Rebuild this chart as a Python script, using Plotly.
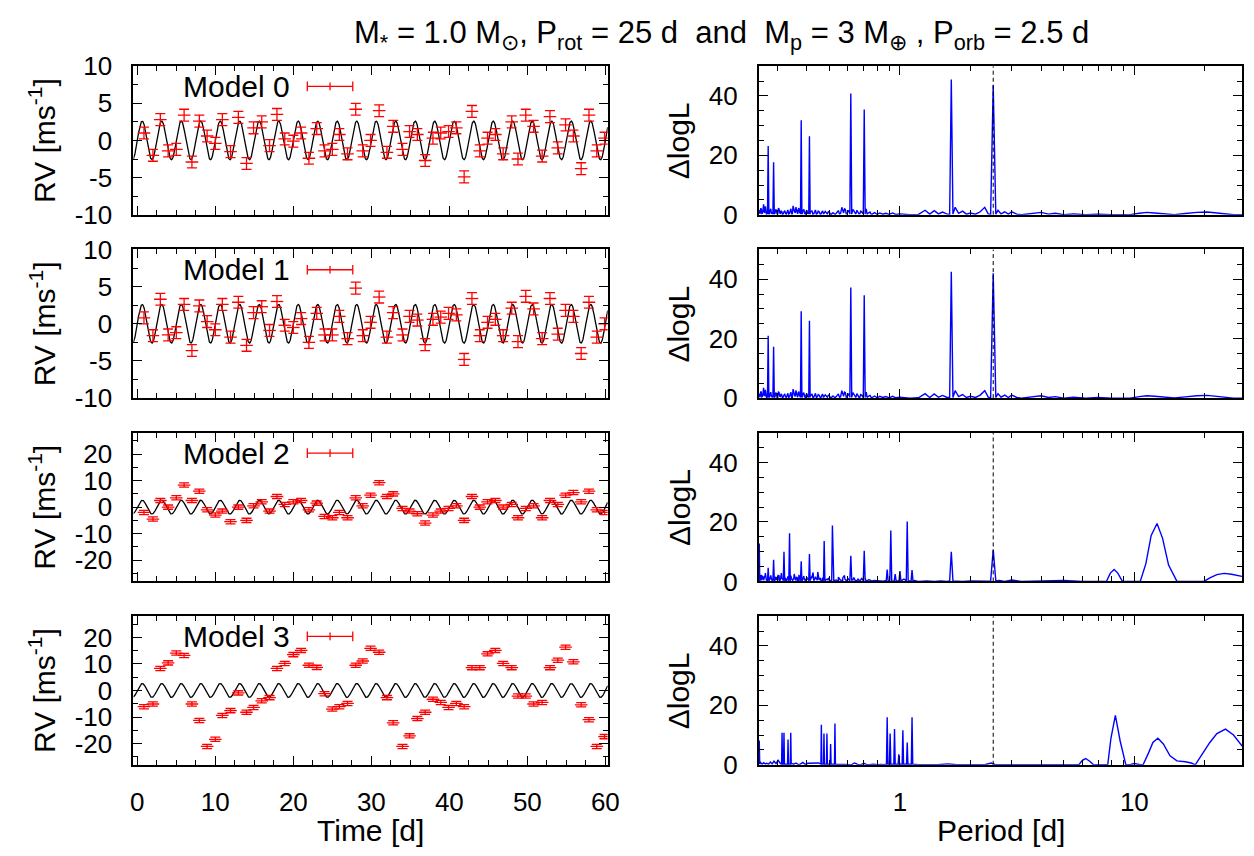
import numpy as np
import plotly.graph_objects as go

W, H = 1254, 856
FONT = "Liberation Sans"

# ---------------- RV time series ----------------
time_d = [0.85, 2.0, 2.95, 3.95, 5.0, 6.0, 7.0, 7.95, 8.95, 10.0,
          10.9, 11.95, 12.95, 14.0, 14.9, 15.95, 16.95, 17.9, 18.9, 20.0,
          21.0, 22.0, 23.0, 24.0, 25.0, 25.9, 26.95, 28.0, 28.9, 29.9,
          31.0, 32.0, 32.8, 34.0, 34.9, 35.9, 36.9, 37.9, 38.9, 39.9,
          40.9, 41.9, 42.9, 43.9, 44.9, 45.9, 46.9, 48.0, 48.8, 49.8,
          50.8, 51.9, 52.9, 53.9, 54.9, 55.9, 56.9, 57.9, 58.9, 59.9]

rv_model0 = [1.0, -2.0, 2.8, -1.4, -1.2, 3.4, -2.9, 2.6, 0.6, -0.4,
             2.8, -1.5, 3.1, -3.1, 1.7, 2.5, -0.7, 3.5, 0.2, -0.1,
             1.0, -2.4, 1.6, -1.4, -1.2, 0.8, -1.8, 4.2, -1.4, 0.0,
             4.0, -1.6, 1.9, -1.2, 1.2, 0.8, -2.7, 0.3, 1.0, 1.2,
             1.7, -4.9, 3.9, -1.4, 0.3, 0.8, -1.8, 2.5, -2.5, 3.4,
             1.9, -2.1, 3.2, -1.0, 2.1, 0.6, -3.8, 3.4, -1.4, 0.3]

rv_model1 = [0.8, -1.6, 3.3, -1.5, -1.2, 2.6, -3.6, 2.4, 0.3, -0.8,
             2.6, -1.8, 2.9, -2.9, 1.5, 2.3, -0.9, 3.0, -0.2, -0.5,
             0.7, -2.5, 1.4, -1.5, -1.5, 1.0, -2.0, 4.8, -1.6, 0.2,
             3.6, -1.8, 1.5, -1.5, 1.0, 0.5, -2.8, 0.6, 0.9, 1.4,
             1.2, -4.8, 3.4, -1.6, 0.2, 0.6, -1.6, 2.1, -2.4, 3.7,
             2.0, -2.0, 3.4, -1.4, 1.8, 1.0, -4.0, 2.9, -1.8, 0.0]

rv_model2 = [-2.0, -4.5, 2.5, 0.0, 3.5, 8.3, 2.5, 6.0, -1.0, -3.0,
             -1.5, -5.5, 0.0, -5.0, 0.5, 2.0, -1.5, 4.0, 1.0, 2.0,
             2.5, -1.0, 1.5, -3.5, -4.0, -2.0, -4.0, 3.5, 0.5, 4.5,
             9.2, 4.0, 5.0, -0.5, -1.5, -2.5, -6.0, -3.0, -1.5, -0.5,
             0.5, -5.0, 4.0, 0.0, 2.0, 2.5, 0.0, 1.0, -4.0, -0.5,
             0.5, -4.0, 2.5, 1.0, 4.5, 5.5, 2.0, 6.0, -1.0, -2.0]

rv_model3 = [-6.1, -5.1, 8.3, 10.4, 14.1, 13.2, -5.1, -11.3, -21.1, -18.4,
             -9.4, -7.6, -0.9, -8.2, -6.4, -3.9, -2.7, 8.3, 10.2, 13.5,
             15.1, 9.5, 8.7, -1.2, -7.0, -6.1, -4.9, 9.5, 11.1, 15.9,
             14.4, -2.7, -12.2, -21.1, -17.1, -10.6, -8.2, -3.3, -4.5, -6.4,
             -4.9, -6.1, 8.6, 8.6, 13.8, 15.1, 10.2, 8.6, -2.1, -2.1,
             -5.1, -4.5, 8.6, 11.4, 16.3, 10.8, -5.4, -11.0, -21.1, -17.4]

rv_err = 0.8

# injected planet signal (model curve parameters)
K_planet = 2.6
P_orb = 2.5
t_peak = 0.625

# ---------------- Periodograms ----------------
floor_m01_P = [0.250, 0.253, 0.256, 0.259, 0.262, 0.265, 0.268, 0.271, 0.279, 0.283,
               0.295, 0.299, 0.303, 0.307, 0.311, 0.315, 0.320, 0.325, 0.330, 0.335,
               0.340, 0.345, 0.350, 0.355, 0.360, 0.364, 0.368, 0.373, 0.386, 0.392,
               0.398, 0.404, 0.418, 0.425, 0.432, 0.440, 0.448, 0.456, 0.464, 0.472,
               0.480, 0.490, 0.500, 0.510, 0.520, 0.530, 0.540, 0.552, 0.565, 0.575,
               0.585, 0.595, 0.605, 0.630, 0.642, 0.655, 0.668, 0.680, 0.692, 0.718,
               0.730, 0.745, 0.760, 0.780, 0.800, 0.820, 0.845, 0.870, 0.900, 0.930,
               0.960, 1.000, 1.05, 1.10, 1.20, 1.28, 1.34, 1.40, 1.46, 1.52,
               1.58, 1.72, 1.78, 1.85, 1.92, 2.00, 2.10, 2.20, 2.30, 2.38,
               2.62, 2.70, 2.80, 2.90, 3.00, 3.15, 3.30, 3.80, 4.00, 4.30,
               4.60, 5.00, 5.50, 6.20, 7.00, 8.00, 9.50, 28.8]
floor_m01_h = [1.5, 0.3, 2.0, 0.5, 3.5, 0.8, 1.8, 0.4, 1.2, 0.5,
               1.8, 0.3, 2.2, 0.6, 1.4, 0.2, 1.0, 0.4, 0.9, 0.2,
               1.2, 0.3, 3.0, 1.0, 2.6, 0.5, 1.8, 0.6, 1.5, 0.4,
               1.2, 0.3, 1.0, 0.2, 0.8, 0.2, 1.2, 0.3, 0.9, 0.2,
               1.1, 0.3, 0.8, 0.1, 0.6, 0.2, 0.9, 0.3, 2.5, 0.6,
               1.8, 0.4, 1.5, 1.8, 0.4, 1.5, 0.3, 1.2, 0.4, 2.0,
               0.5, 0.9, 0.2, 0.7, 0.1, 0.6, 0.2, 0.5, 0.1, 0.6,
               0.1, 0.3, 0.1, 0.0, 0.1, 1.5, 0.2, 1.4, 0.3, 0.9,
               0.3, 2.5, 0.5, 1.2, 0.2, 0.6, 0.2, 1.0, 2.5, 0.3,
               1.5, 0.3, 1.0, 0.2, 1.0, 0.2, 0.0, 0.5, 0.8, 0.2,
               0.5, 0.0, 0.3, 0.0, 0.2, 0.0, 0.0, 0.0]

# extra short-period noise texture (dense band at P < 0.76 d)
floor_dense_P = [0.2515, 0.2545, 0.2575, 0.2605, 0.2635, 0.2665, 0.2695, 0.2725,
                 0.2775, 0.281, 0.285, 0.293, 0.297, 0.301, 0.305, 0.309, 0.313, 0.3175,
                 0.3225, 0.3275, 0.3325, 0.3375, 0.3425, 0.3475, 0.3525, 0.3575,
                 0.362, 0.366, 0.3705, 0.375, 0.383, 0.389, 0.395, 0.401, 0.407,
                 0.4145, 0.4215, 0.4285, 0.436, 0.444, 0.452, 0.460, 0.468, 0.476, 0.485,
                 0.495, 0.505, 0.515, 0.525, 0.535, 0.546, 0.558, 0.570, 0.580, 0.590,
                 0.600, 0.611, 0.624, 0.636, 0.648, 0.661, 0.674, 0.686, 0.698, 0.711,
                 0.724, 0.737, 0.752]
floor_dense_h = [0.6, 2.2, 0.4, 1.6, 0.9, 2.8, 0.3, 1.0,
                 0.4, 2.0, 0.6, 0.5, 1.5, 0.3, 1.9, 0.5, 1.1, 0.3,
                 1.4, 0.2, 1.6, 0.4, 2.0, 0.3, 1.2, 0.6,
                 1.5, 0.3, 2.2, 0.8, 0.4, 1.8, 0.2, 1.5, 0.6,
                 0.9, 1.4, 0.3, 1.6, 0.4, 1.0, 0.2, 1.3, 0.5, 0.7,
                 1.0, 0.2, 0.6, 0.3, 0.5, 1.4, 0.4, 1.2, 2.0, 0.3,
                 1.0, 0.5, 0.6, 1.3, 0.2, 0.9, 0.3, 1.0, 0.5, 0.8,
                 0.2, 0.6, 0.3]

pk_m0_P = [0.274, 0.289, 0.379, 0.411, 0.617, 0.704, 1.656, 2.5]
pk_m0_h = [23.1, 17.7, 31.8, 26.4, 40.8, 35.4, 45.5, 43.6]
pk_m1_h = [21.0, 17.3, 29.2, 26.0, 37.2, 34.6, 42.5, 42.0]
pk_m01_w = [0.003, 0.003, 0.003, 0.003, 0.004, 0.004, 0.007, 0.011]

hump_m0_P = [[9.6, 10.5, 11.3, 12.2, 13.2, 14.2],
             [14.8, 16.5, 18.5, 20.5, 22.5, 24.5, 26.5]]
hump_m0_h = [[0.0, 0.5, 0.8, 0.6, 0.3, 0.05],
             [0.05, 0.4, 0.8, 0.9, 0.6, 0.2, 0.0]]

floor_m2_P = [0.250, 0.254, 0.258, 0.262, 0.266, 0.270, 0.280, 0.284, 0.293, 0.297,
              0.302, 0.306, 0.312, 0.316, 0.324, 0.329, 0.333, 0.344, 0.349, 0.354,
              0.360, 0.365, 0.370, 0.374, 0.384, 0.390, 0.396, 0.402, 0.408, 0.415,
              0.420, 0.426, 0.432, 0.438, 0.446, 0.452, 0.458, 0.465, 0.472, 0.480,
              0.490, 0.500, 0.510, 0.522, 0.534, 0.546, 0.558, 0.570, 0.582, 0.594,
              0.606, 0.630, 0.645, 0.660, 0.675, 0.690, 0.718, 0.735, 0.755, 0.775,
              0.800, 0.825, 0.850, 0.870, 0.930, 0.980, 1.040, 1.100, 1.150, 1.200,
              1.300, 1.400, 1.500, 1.58, 1.74, 1.85, 2.00, 2.20, 2.35, 2.65,
              2.80, 3.00, 3.30, 3.80, 4.20, 5.00, 6.00, 7.00, 28.8]
floor_m2_h = [2.5, 0.6, 1.8, 0.4, 2.2, 0.5, 1.5, 0.3, 1.6, 0.5,
              2.0, 0.4, 2.8, 0.8, 1.2, 0.3, 1.8, 1.0, 0.3, 2.5,
              0.5, 1.2, 0.3, 1.5, 0.4, 1.0, 0.2, 0.8, 3.5, 0.6,
              1.5, 3.0, 0.5, 1.2, 3.2, 0.4, 1.0, 0.2, 0.8, 0.4,
              0.6, 0.3, 0.5, 0.2, 0.4, 0.1, 0.5, 0.2, 0.8, 0.3,
              0.6, 0.5, 0.2, 0.4, 0.1, 0.6, 0.3, 0.5, 0.1, 0.3,
              0.2, 0.3, 0.1, 0.3, 0.1, 0.3, 0.8, 0.2, 0.3, 0.0,
              0.2, 0.0, 0.2, 0.0, 0.1, 0.0, 0.2, 0.0, 0.1, 0.3,
              0.0, 0.5, 0.0, 0.1, 0.0, 0.3, 0.0, 0.0, 0.0]

pk_m2_P = [0.251, 0.274, 0.289, 0.320, 0.338, 0.379, 0.411, 0.475, 0.515,
           0.617, 0.704, 0.882, 0.914, 0.954, 1.000, 1.074, 1.126, 1.656, 2.5]
pk_m2_h = [12.8, 4.6, 7.3, 10.0, 16.2, 6.8, 9.2, 13.6, 18.8,
           8.6, 10.3, 4.0, 17.1, 2.5, 3.5, 20.2, 3.8, 10.0, 10.6]
pk_m2_w = [0.002, 0.003, 0.003, 0.003, 0.003, 0.003, 0.003, 0.003, 0.003,
           0.004, 0.004, 0.004, 0.004, 0.004, 0.004, 0.004, 0.004, 0.007, 0.011]

hump_m2_P = [[7.6, 7.9, 8.2, 8.5, 8.9],
             [10.6, 11.2, 11.8, 12.5, 13.2, 14.0, 15.2],
             [19.8, 21.0, 22.5, 24.2, 26.0, 28.8]]
hump_m2_h = [[0.0, 2.8, 4.0, 2.8, 0.0],
             [0.0, 6.0, 15.5, 19.5, 14.5, 5.5, 0.0],
             [0.0, 1.2, 2.3, 2.7, 2.4, 1.7]]

floor_m3_P = [0.254, 0.258, 0.262, 0.266, 0.270, 0.275, 0.280, 0.285, 0.290, 0.296,
              0.302, 0.310, 0.346, 0.352, 0.360, 0.368, 0.376, 0.385, 0.395, 0.405,
              0.450, 0.535, 0.545, 0.560, 0.580, 0.600, 0.620, 0.640, 0.660, 0.680,
              0.700, 0.720, 0.740, 0.770, 0.800, 0.830, 0.855, 1.150, 1.20, 1.30,
              1.45, 1.60, 1.75, 2.00, 2.30, 2.45, 2.55, 2.70, 3.20, 4.00,
              5.00, 5.70, 7.40, 9.60, 10.0, 10.6, 28.9]
floor_m3_h = [0.8, 0.2, 0.7, 0.3, 0.5, 0.2, 0.9, 0.3, 1.2, 0.4,
              1.5, 0.3, 0.4, 0.2, 0.6, 0.1, 0.2, 0.8, 0.1, 0.5,
              0.6, 0.2, 0.1, 0.2, 0.0, 0.1, 0.0, 0.6, 0.1, 0.0,
              0.5, 0.1, 0.0, 0.2, 0.0, 0.1, 0.0, 0.1, 0.0, 0.0,
              0.0, 0.3, 0.0, 0.0, 0.0, 0.6, 0.0, 0.0, 0.0, 0.0,
              0.0, 0.0, 0.0, 0.0, 0.4, 0.0, 6.2]

pk_m3_P = [0.251, 0.314, 0.320, 0.333, 0.342, 0.462, 0.474, 0.488, 0.506, 0.528,
           0.882, 0.908, 0.948, 0.989, 1.029, 1.074, 1.126]
pk_m3_h = [8.2, 10.8, 10.8, 8.5, 10.8, 13.5, 10.5, 10.5, 7.0, 13.9,
           16.0, 10.5, 12.0, 3.5, 11.6, 7.5, 16.0]
pk_m3_w = [0.002, 0.002, 0.002, 0.002, 0.002, 0.002, 0.002, 0.002, 0.002, 0.002,
           0.003, 0.003, 0.003, 0.003, 0.003, 0.003, 0.003]

hump_m3_P = [[5.8, 6.0, 6.2, 6.45, 6.7],
             [7.7, 7.95, 8.3, 8.7, 9.2],
             [10.9, 11.5, 12.0, 12.6, 13.3, 14.2, 15.2, 16.5, 17.5, 18.2],
             [18.2, 19.5, 21.0, 22.5, 24.5, 26.5, 28.0]]
hump_m3_h = [[0.0, 1.5, 2.1, 1.2, 0.0],
             [0.0, 9.0, 16.6, 8.0, 0.0],
             [0.0, 4.0, 7.5, 8.9, 7.0, 3.0, 1.3, 1.0, 0.6, 0.0],
             [0.0, 3.5, 7.5, 10.5, 12.0, 10.0, 7.5]]

panel_names = ["Model 0", "Model 1", "Model 2", "Model 3"]


def build_curve(floor_P, floor_h, pk_P, pk_h, pk_w, hump_P, hump_h):
    pts, spans = [], []
    for p, h, w in zip(pk_P, pk_h, pk_w):
        lo, hi = p * 10 ** (-w), p * 10 ** w
        spans.append((lo, hi))
        pts += [(lo, 0.2), (p, h), (hi, 0.2)]
    for hp, hh in zip(hump_P, hump_h):
        spans.append((min(hp), max(hp)))
        pts += list(zip(hp, hh))
    for p, h in zip(floor_P, floor_h):
        if any(lo <= p <= hi for lo, hi in spans):
            continue
        pts.append((p, h))
    pts.sort()
    return [a for a, _ in pts], [b for _, b in pts]


pgrams = [
    build_curve(floor_m01_P + floor_dense_P, floor_m01_h + floor_dense_h,
                pk_m0_P, pk_m0_h, pk_m01_w, hump_m0_P, hump_m0_h),
    build_curve(floor_m01_P + floor_dense_P, floor_m01_h + floor_dense_h,
                pk_m0_P, pk_m1_h, pk_m01_w, hump_m0_P, hump_m0_h),
    build_curve(floor_m2_P + floor_dense_P, floor_m2_h + floor_dense_h,
                pk_m2_P, pk_m2_h, pk_m2_w, hump_m2_P, hump_m2_h),
    build_curve(floor_m3_P, floor_m3_h, pk_m3_P, pk_m3_h, pk_m3_w, hump_m3_P, hump_m3_h),
]
rv_sets = [rv_model0, rv_model1, rv_model2, rv_model3]

# ---------------- layout geometry (pixels) ----------------
L_X0, L_X1 = 132, 612
R_X0, R_X1 = 765, 1254
panel_top = [53, 243, 433, 623]
panel_h = 154

TICK_SIZE = 26
TITLE_SIZE = 30


def px(x):
    return x / W


def py(y):
    return 1 - y / H


fig = go.Figure()
t_model = np.linspace(-0.5, 60.3, 2000)
v_model = K_planet * np.sin(2 * np.pi * (t_model - t_peak) / P_orb + np.pi / 2)

axis_common = dict(showline=True, linecolor="black", linewidth=2, mirror="allticks",
                   ticks="inside", tickcolor="black", tickwidth=1.2, ticklen=9,
                   showgrid=False, zeroline=False,
                   tickfont=dict(family=FONT, size=TICK_SIZE, color="black"))

annotations = []
shapes = []
for i in range(4):
    top = panel_top[i]
    bot = top + panel_h
    ydom = [py(bot), py(top)]
    xa_l = "x" + (str(2 * i + 1) if i > 0 else "")
    ya_l = "y" + (str(2 * i + 1) if i > 0 else "")
    xa_r = "x" + str(2 * i + 2)
    ya_r = "y" + str(2 * i + 2)

    # left RV panel
    fig.add_trace(go.Scatter(x=t_model, y=v_model, mode="lines",
                             line=dict(color="black", width=1.3),
                             xaxis=xa_l, yaxis=ya_l, showlegend=False, hoverinfo="skip"))
    fig.add_trace(go.Scatter(x=time_d, y=rv_sets[i], mode="markers",
                             marker=dict(symbol="line-ew", size=9, color="red",
                                         line=dict(color="red", width=1.3)),
                             error_y=dict(type="constant", value=rv_err, color="red",
                                          thickness=1.3, width=5),
                             xaxis=xa_l, yaxis=ya_l, showlegend=False))
    # right periodogram panel
    pp, hh = pgrams[i]
    fig.add_trace(go.Scatter(x=pp, y=hh, mode="lines",
                             line=dict(color="#0000ff", width=1.4),
                             xaxis=xa_r, yaxis=ya_r, showlegend=False))
    fig.add_trace(go.Scatter(x=[P_orb, P_orb], y=[0, 50], mode="lines",
                             line=dict(color="black", width=1, dash="4px,3px"),
                             xaxis=xa_r, yaxis=ya_r, showlegend=False))

    last = (i == 3)
    lkey = xa_l.replace("x", "xaxis")
    rkey = xa_r.replace("x", "xaxis")
    lykey = ya_l.replace("y", "yaxis")
    rykey = ya_r.replace("y", "yaxis")

    fig.layout[lkey] = dict(axis_common, domain=[px(L_X0), px(L_X1)], anchor=ya_l,
                            range=[-0.5, 60.3], tickvals=[0, 10, 20, 30, 40, 50, 60],
                            ticktext=["0", "10", "20", "30", "40", "50", "60"],
                            showticklabels=last, ticklabelstandoff=13,
                            minor=dict(ticks="inside", dtick=2.5, tick0=0, ticklen=5,
                                       tickcolor="black", tickwidth=1))
    if i < 2:
        yv = [-10, -5, 0, 5, 10]
        yr = [-10, 10]
        ymin = 2.5
    else:
        yv = [-20, -10, 0, 10, 20]
        yr = [-28, 28]
        ymin = 5
    fig.layout[lykey] = dict(axis_common, domain=ydom, anchor=xa_l, range=yr,
                             tickvals=yv, ticktext=[str(v) for v in yv],
                             ticklabelstandoff=14,
                             minor=dict(ticks="inside", dtick=ymin, tick0=0, ticklen=5,
                                        tickcolor="black", tickwidth=1))
    minor_log = [0.3, 0.4, 0.5, 0.6, 0.7, 0.8, 0.9, 2, 3, 4, 5, 6, 7, 8, 9, 20]
    fig.layout[rkey] = dict(axis_common, type="log", domain=[px(R_X0), px(R_X1)],
                            anchor=ya_r, range=[np.log10(0.25), np.log10(28.8)],
                            tickvals=[1, 10], ticktext=["1", "10"],
                            showticklabels=last, ticklabelstandoff=13,
                            minor=dict(ticks="inside", tickvals=minor_log, ticklen=5,
                                       tickcolor="black", tickwidth=1))
    fig.layout[rykey] = dict(axis_common, domain=ydom, anchor=xa_r, range=[0, 50],
                             tickvals=[0, 20, 40], ticktext=["0", "20", "40"],
                             ticklabelstandoff=14,
                             minor=dict(ticks="inside", dtick=5, tick0=0, ticklen=5,
                                        tickcolor="black", tickwidth=1))

    # axis titles
    mid = top + panel_h / 2
    annotations.append(dict(text="RV [ms<sup>-1</sup>]", x=px(40), y=py(mid), xref="paper",
                            yref="paper", textangle=-90, showarrow=False,
                            font=dict(family=FONT, size=TITLE_SIZE, color="black"),
                            xanchor="center", yanchor="middle"))
    annotations.append(dict(text="\u0394logL", x=px(684), y=py(mid), xref="paper",
                            yref="paper", textangle=-90, showarrow=False,
                            font=dict(family=FONT, size=TITLE_SIZE, color="black"),
                            xanchor="center", yanchor="middle"))
    # key
    ky = top + 21
    annotations.append(dict(text=panel_names[i], x=px(292), y=py(ky), xref="paper",
                            yref="paper", showarrow=False, xanchor="right",
                            yanchor="middle",
                            font=dict(family=FONT, size=30, color="black")))
    kl = dict(type="line", xref="paper", yref="paper", line=dict(color="red", width=1.3))
    shapes.append(dict(kl, x0=px(308), x1=px(354), y0=py(ky), y1=py(ky)))
    shapes.append(dict(kl, x0=px(308), x1=px(308), y0=py(ky - 5), y1=py(ky + 5)))
    shapes.append(dict(kl, x0=px(354), x1=px(354), y0=py(ky - 5), y1=py(ky + 5)))
    shapes.append(dict(kl, x0=px(331), x1=px(331), y0=py(ky - 4), y1=py(ky + 4)))

annotations.append(dict(text="Time [d]", x=px(372), y=py(845), xref="paper", yref="paper",
                        showarrow=False, xanchor="center", yanchor="middle",
                        font=dict(family=FONT, size=TITLE_SIZE, color="black")))
annotations.append(dict(text="Period [d]", x=px(1010), y=py(845), xref="paper", yref="paper",
                        showarrow=False, xanchor="center", yanchor="middle",
                        font=dict(family=FONT, size=TITLE_SIZE, color="black")))
annotations.append(dict(
    text="M<sub>*</sub> = 1.0 M<sub>\u2299</sub>, P<sub>rot</sub> = 25 d  and  M<sub>p</sub> = 3 M<sub>\u2295</sub> , P<sub>orb</sub> = 2.5 d",
    x=px(727), y=py(21), xref="paper", yref="paper", showarrow=False,
    xanchor="center", yanchor="middle",
    font=dict(family=FONT, size=31, color="black")))

fig.update_layout(width=W, height=H, margin=dict(l=0, r=0, t=0, b=0),
                  paper_bgcolor="white", plot_bgcolor="white",
                  annotations=annotations, shapes=shapes, showlegend=False)

fig.write_html("out.html")
